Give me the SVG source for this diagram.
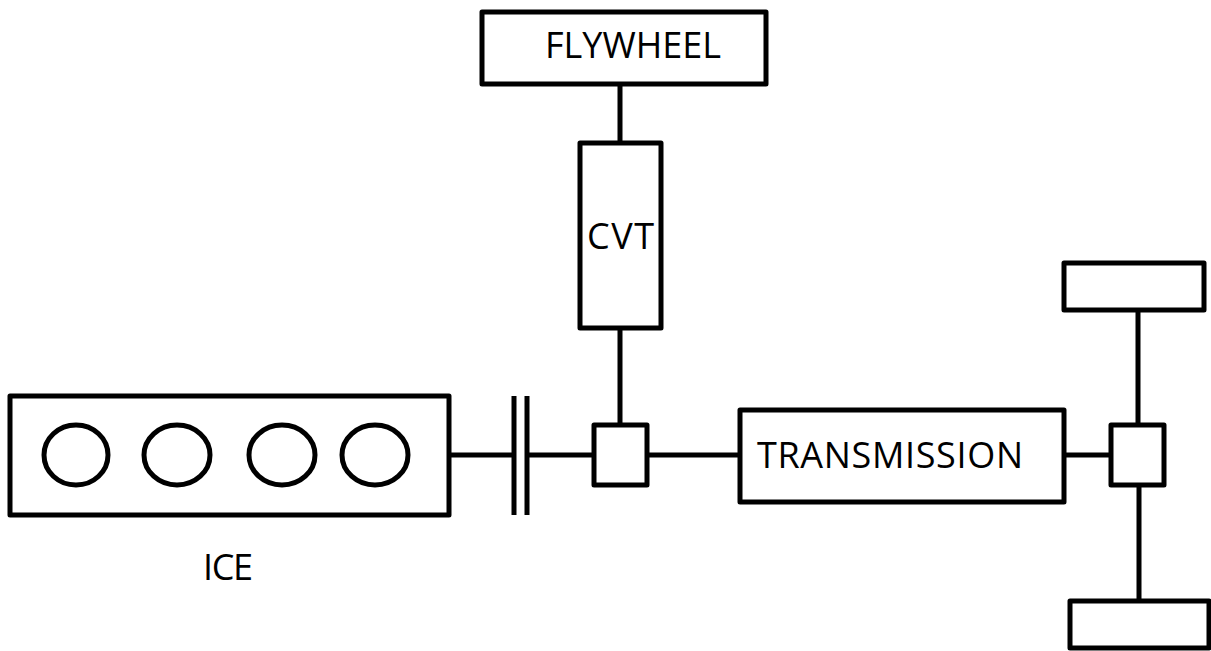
<svg xmlns="http://www.w3.org/2000/svg" width="1211" height="651" viewBox="0 0 1211 651">
<style>
.b{fill:#fff;stroke:#000;stroke-width:5;stroke-linejoin:round}
.l{stroke:#000;stroke-width:5;fill:none}
text{font-family:"Open Sans","Noto Sans",sans-serif;font-size:36px;fill:#000}
</style>
<rect width="1211" height="651" fill="#fff"/>
<g id="connectors">
<path class="l" d="M620 84V143M620 328V425M449 455H514M527 455H593M647 455H740M1064 455H1111M1138 310V425M1139 485V601"/>
<path class="l" d="M514 396V515M527 396V515"/>
</g>
<g id="flywheel"><rect class="b" x="482" y="12" width="284" height="72"/><text x="545" y="58" textLength="176" lengthAdjust="spacing">FLYWHEEL</text></g>
<g id="cvt"><rect class="b" x="580" y="143" width="81" height="185"/><text x="587" y="249" textLength="67">CVT</text></g>
<g id="ice"><rect class="b" x="10" y="396" width="439" height="119"/>
<ellipse class="b" cx="76" cy="455" rx="32" ry="30"/><ellipse class="b" cx="177" cy="455" rx="33" ry="30"/><ellipse class="b" cx="282" cy="455" rx="33" ry="30"/><ellipse class="b" cx="375" cy="455" rx="33" ry="30"/>
<text x="203" y="580" textLength="50">ICE</text></g>
<g id="junction1"><rect class="b" x="594" y="425" width="53" height="60"/></g>
<g id="transmission"><rect class="b" x="740" y="410" width="324" height="92"/><text x="757" y="468" textLength="266">TRANSMISSION</text></g>
<g id="junction2"><rect class="b" x="1111" y="425" width="53" height="60"/></g>
<g id="wheel-top"><rect class="b" x="1064" y="263" width="140" height="47"/></g>
<g id="wheel-bottom"><rect class="b" x="1070" y="601" width="139" height="47"/></g>
</svg>
